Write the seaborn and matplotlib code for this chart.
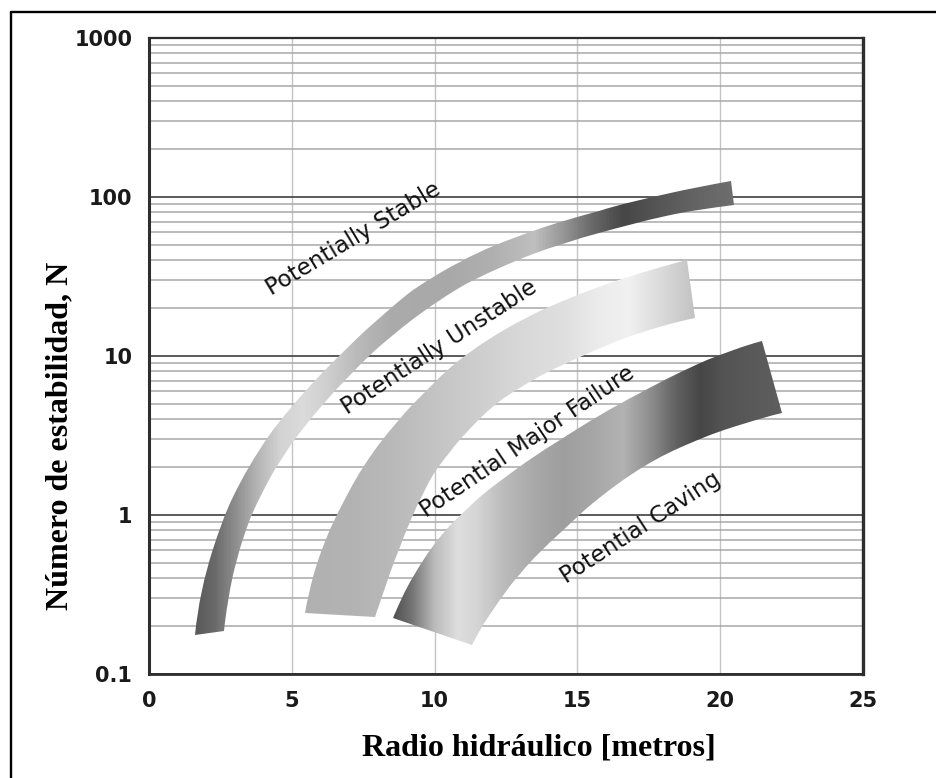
import numpy as np
import matplotlib
matplotlib.use("Agg")
import matplotlib.pyplot as plt
from matplotlib.path import Path
from matplotlib.patches import PathPatch
from matplotlib.lines import Line2D
from matplotlib.ticker import FixedLocator, FixedFormatter, LogLocator, NullFormatter
import seaborn as sns

# ---------------------------------------------------------------------------
# Transition zones of the stability graph: hydraulic radius (m) vs N.
# Each zone is bounded by an upper (left) edge and a lower (right) edge.
# ---------------------------------------------------------------------------
stable_upper_x = [1.611, 2.241, 2.941, 4.167, 4.937, 6.092, 7.633, 9.244, 10.889, 13.445, 15.756, 18.102, 20.378]
stable_upper_n = [0.1759, 0.6148, 1.305, 3.090, 4.675, 7.875, 14.68, 25.85, 39.29, 61.12, 82.14, 104.6, 126.1]
stable_lower_x = [2.626, 2.941, 3.291, 3.641, 4.237, 4.937, 5.742, 6.443, 8.088, 9.489, 11.099, 13.445, 15.756, 18.102, 20.483]
stable_lower_n = [0.1864, 0.4182, 0.7014, 1.037, 1.721, 2.697, 4.164, 5.810, 11.56, 18.37, 28.17, 43.80, 59.37, 75.94, 89.06]

unstable_upper_x = [5.462, 5.742, 6.443, 7.143, 8.088, 9.244, 10.084, 11.345, 13.691, 16.036, 18.838]
unstable_upper_n = [0.2418, 0.4075, 0.8906, 1.567, 2.817, 4.990, 7.066, 10.91, 19.19, 28.25, 39.98]
unstable_lower_x = [7.913, 8.333, 8.789, 9.384, 9.944, 10.539, 11.134, 12.290, 13.691, 15.091, 17.192, 19.118]
unstable_lower_n = [0.2283, 0.3790, 0.6291, 1.139, 1.784, 2.490, 3.327, 5.212, 7.432, 9.856, 14.05, 17.34]

caving_upper_x = [8.543, 9.244, 10.084, 11.134, 12.535, 14.391, 17.192, 19.538, 21.464]
caving_upper_n = [0.2250, 0.4075, 0.6864, 1.097, 1.764, 2.972, 5.886, 9.383, 12.50]
caving_lower_x = [11.310, 12.045, 12.990, 14.391, 15.546, 17.297, 19.048, 20.798, 22.164]
caving_lower_n = [0.1522, 0.2526, 0.4255, 0.7706, 1.190, 2.004, 2.878, 3.735, 4.380]

# Zone names and where they sit on the chart
zone_labels = ["Potentially Stable", "Potentially Unstable",
               "Potential Major Failure", "Potential Caving"]
label_x = [7.16, 10.16, 13.27, 17.23]
label_n = [54.8, 11.4, 2.88, 0.828]
label_angle = [31, 33, 34, 33]

x_ticks = [0, 5, 10, 15, 20, 25]
y_ticks = [0.1, 1, 10, 100, 1000]
y_tick_labels = ["0.1", "1", "10", "100", "1000"]

# Grey shading along each band (x position, grey level 0-255)
stable_shade_x = [1.6, 2.3, 3.0, 3.8, 4.6, 5.4, 6.3, 7.3, 8.5, 10.5, 12.0, 13.5, 14.5, 15.5, 16.6, 17.8, 19.2, 20.5]
stable_shade_g = [88, 105, 140, 180, 210, 218, 205, 185, 170, 168, 175, 190, 150, 105, 70, 85, 100, 110]
unstable_shade_x = [5.4, 7.0, 8.5, 10.0, 11.5, 13.0, 14.5, 15.8, 16.8, 17.8, 19.2]
unstable_shade_g = [176, 178, 184, 195, 205, 215, 222, 235, 240, 220, 192]
caving_shade_x = [8.5, 9.2, 10.0, 10.8, 11.5, 12.5, 13.5, 14.5, 15.5, 16.6, 17.6, 18.5, 19.3, 20.2, 21.3, 22.2]
caving_shade_g = [78, 115, 185, 222, 212, 185, 168, 158, 165, 178, 140, 95, 70, 84, 90, 94]

# ---------------------------------------------------------------------------
sns.set_theme(style="white")
plt.rcParams["font.family"] = ["DejaVu Sans"]

W, H = 936, 778
fig = plt.figure(figsize=(W / 100, H / 100), dpi=100)
ax = fig.add_axes([149 / W, 1 - 674 / H, (863 - 149) / W, (674 - 38) / H])
ax.set_yscale("log")
ax.set_xlim(0, 25)
ax.set_ylim(0.1, 1000)


def smooth_edge(xs, ns):
    """Chord-length cubic spline through the edge points, built as Bezier
    segments in screen space and mapped back to data coordinates."""
    pts = ax.transData.transform(np.column_stack([xs, ns]))
    n = len(pts)
    seg = np.diff(pts, axis=0)
    d = np.linalg.norm(seg, axis=1)
    unit = seg / d[:, None]
    tang = np.zeros_like(pts)
    for i in range(1, n - 1):
        tang[i] = (unit[i - 1] * d[i] + unit[i] * d[i - 1]) / (d[i - 1] + d[i])
    tang[0] = 2 * unit[0] - tang[1]
    tang[-1] = 2 * unit[-1] - tang[-2]
    verts = [pts[0]]
    for i in range(n - 1):
        verts += [pts[i] + tang[i] * d[i] / 3.0,
                  pts[i + 1] - tang[i + 1] * d[i] / 3.0,
                  pts[i + 1]]
    return ax.transData.inverted().transform(np.array(verts))


def band_path(ux, un, lx, ln):
    up = smooth_edge(ux, un)
    lo = smooth_edge(lx, ln)[::-1]
    verts = np.vstack([up, lo, up[:1]])
    codes = ([Path.MOVETO] + [Path.CURVE4] * (len(up) - 1) + [Path.LINETO]
             + [Path.CURVE4] * (len(lo) - 1) + [Path.CLOSEPOLY])
    return Path(verts, codes)


grey = sns.color_palette("gray", as_cmap=True)

bands = [
    (stable_upper_x, stable_upper_n, stable_lower_x, stable_lower_n, stable_shade_x, stable_shade_g),
    (unstable_upper_x, unstable_upper_n, unstable_lower_x, unstable_lower_n, unstable_shade_x, unstable_shade_g),
    (caving_upper_x, caving_upper_n, caving_lower_x, caving_lower_n, caving_shade_x, caving_shade_g),
]

for ux, un, lx, ln, sx, sg in bands:
    path = band_path(ux, un, lx, ln)
    outline = PathPatch(path, facecolor="none", edgecolor="none", transform=ax.transData)
    ax.add_patch(outline)
    x0, x1 = min(ux + lx) - 0.3, max(ux + lx) + 0.3
    xe = np.linspace(x0, x1, 400)
    xc = 0.5 * (xe[:-1] + xe[1:])
    shade = np.interp(xc, sx, sg)[None, :]
    mesh = ax.pcolormesh(xe, [0.1, 1000], shade, cmap=grey, vmin=0, vmax=255,
                         shading="flat", zorder=2)
    mesh.set_clip_path(outline)

for txt, lx_, ln_, ang in zip(zone_labels, label_x, label_n, label_angle):
    ax.text(lx_, ln_, txt, rotation=ang, rotation_mode="anchor",
            ha="center", va="center", fontsize=16.5, color="#111111", zorder=4)

# Axes, ticks and grid
ax.xaxis.set_major_locator(FixedLocator(x_ticks))
ax.yaxis.set_major_locator(FixedLocator(y_ticks))
ax.yaxis.set_major_formatter(FixedFormatter(y_tick_labels))
ax.yaxis.set_minor_locator(LogLocator(base=10, subs=np.arange(2, 10)))
ax.yaxis.set_minor_formatter(NullFormatter())

ax.set_axisbelow(True)
ax.grid(which="major", axis="y", color="#4d4d4d", lw=1.3)
ax.grid(which="minor", axis="y", color="#a8a8a8", lw=1.1)
ax.grid(which="major", axis="x", color="#c4c4c4", lw=1.0)

ax.tick_params(axis="y", which="major", direction="out", length=4.5, width=1.4,
               color="#333333", pad=7.5, labelsize=15, labelcolor="#1a1a1a")
ax.tick_params(axis="y", which="minor", length=0)
ax.tick_params(axis="x", which="major", direction="out", length=5, width=1.0,
               color="#b0b0b0", pad=7, labelsize=15, labelcolor="#1a1a1a")
for lab in ax.get_xticklabels() + ax.get_yticklabels():
    lab.set_fontweight("bold")

for side, lw in [("left", 2.2), ("bottom", 2.0), ("right", 2.4), ("top", 1.6)]:
    ax.spines[side].set_visible(True)
    ax.spines[side].set_color("#2e2e2e")
    ax.spines[side].set_linewidth(lw)

ax.set_xlabel("")
ax.set_ylabel("")
fig.text(539 / W, 1 - 755 / H, "Radio hidráulico [metros]", ha="center", va="baseline",
         fontsize=23, fontweight="bold", family=["Liberation Serif", "DejaVu Serif"], color="black")
fig.text(60 / W, 1 - 436 / H, "Número de estabilidad, N", ha="center", va="center",
         rotation=90, fontsize=23, fontweight="bold",
         family=["Liberation Serif", "DejaVu Serif"], color="black")

# Frame around the figure (left and top edges)
fig.add_artist(Line2D([10.5 / W, 10.5 / W], [0, 1 - 12 / H], transform=fig.transFigure,
                      color="black", lw=1.7))
fig.add_artist(Line2D([10.5 / W, 1], [1 - 12 / H, 1 - 12 / H], transform=fig.transFigure,
                      color="black", lw=1.7))

fig.savefig("out.png", dpi=100, facecolor="white")
